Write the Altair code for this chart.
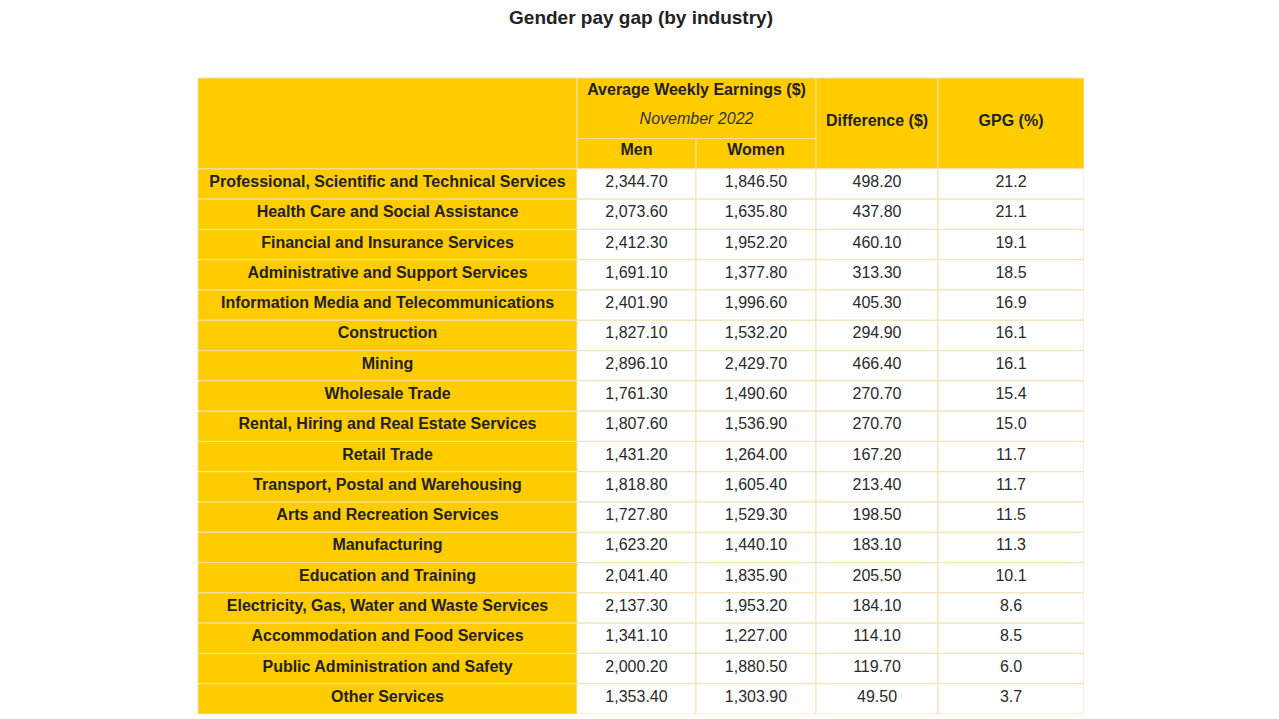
import altair as alt
import pandas as pd

# ---------------- data ----------------
industries = [
    "Professional, Scientific and Technical Services",
    "Health Care and Social Assistance",
    "Financial and Insurance Services",
    "Administrative and Support Services",
    "Information Media and Telecommunications",
    "Construction",
    "Mining",
    "Wholesale Trade",
    "Rental, Hiring and Real Estate Services",
    "Retail Trade",
    "Transport, Postal and Warehousing",
    "Arts and Recreation Services",
    "Manufacturing",
    "Education and Training",
    "Electricity, Gas, Water and Waste Services",
    "Accommodation and Food Services",
    "Public Administration and Safety",
    "Other Services",
]
men = [2344.70, 2073.60, 2412.30, 1691.10, 2401.90, 1827.10, 2896.10, 1761.30, 1807.60,
       1431.20, 1818.80, 1727.80, 1623.20, 2041.40, 2137.30, 1341.10, 2000.20, 1353.40]
women = [1846.50, 1635.80, 1952.20, 1377.80, 1996.60, 1532.20, 2429.70, 1490.60, 1536.90,
         1264.00, 1605.40, 1529.30, 1440.10, 1835.90, 1953.20, 1227.00, 1880.50, 1303.90]
difference = [498.20, 437.80, 460.10, 313.30, 405.30, 294.90, 466.40, 270.70, 270.70,
              167.20, 213.40, 198.50, 183.10, 205.50, 184.10, 114.10, 119.70, 49.50]
gpg = [21.2, 21.1, 19.1, 18.5, 16.9, 16.1, 16.1, 15.4, 15.0,
       11.7, 11.7, 11.5, 11.3, 10.1, 8.6, 8.5, 6.0, 3.7]

title = "Gender pay gap (by industry)"
header_group = "Average Weekly Earnings ($)"
header_period = "November 2022"
header_men = "Men"
header_women = "Women"
header_diff = "Difference ($)"
header_gpg = "GPG (%)"

# ---------------- layout (styles) ----------------
YELLOW = "#FFCC00"
WHITE = "#FFFFFF"
BORDER = "#F2E1AE"
TEXT = "#222222"
FONT = "Liberation Sans"
col_widths = [379, 119, 120, 122, 146]
edges = [0]
for w in col_widths:
    edges.append(edges[-1] + w)
TABLE_W = edges[-1]
HEADER_ROWS = 3
N_ROWS = HEADER_ROWS + len(industries)
TABLE_H = 636


def cx(c0, c1=None):
    c1 = c0 if c1 is None else c1
    return (edges[c0] + edges[c1 + 1]) / 2


cells = []
texts = []


def cell(c0, c1, r0, r1, fill):
    cells.append(dict(x=edges[c0], x2=edges[c1 + 1], y=r0, y2=r1, fill=fill))


def text(c0, c1, yc, label, style):
    texts.append(dict(xc=cx(c0, c1), yc=yc, label=label, style=style))


# header
cell(0, 0, 0, 3, YELLOW)
cell(1, 2, 0, 2, YELLOW)
cell(1, 1, 2, 3, YELLOW)
cell(2, 2, 2, 3, YELLOW)
cell(3, 3, 0, 3, YELLOW)
cell(4, 4, 0, 3, YELLOW)
text(1, 2, 0.47, header_group, "bold")
text(1, 2, 1.42, header_period, "italic")
text(1, 1, 2.45, header_men, "bold")
text(2, 2, 2.45, header_women, "bold")
text(3, 3, 1.5, header_diff, "bold")
text(4, 4, 1.5, header_gpg, "bold")

# body
for i, name in enumerate(industries):
    r = HEADER_ROWS + i
    cell(0, 0, r, r + 1, YELLOW)
    for c in range(1, 5):
        cell(c, c, r, r + 1, WHITE)
    text(0, 0, r + 0.5, name, "bold")
    text(1, 1, r + 0.5, f"{men[i]:,.2f}", "normal")
    text(2, 2, r + 0.5, f"{women[i]:,.2f}", "normal")
    text(3, 3, r + 0.5, f"{difference[i]:,.2f}", "normal")
    text(4, 4, r + 0.5, f"{gpg[i]:.1f}", "normal")

cells_df = pd.DataFrame(cells)
texts_df = pd.DataFrame(texts)

xs = alt.Scale(domain=[0, TABLE_W], range=[0, TABLE_W])
ys = alt.Scale(domain=[0, N_ROWS], range=[0, TABLE_H])

rects = alt.Chart(cells_df).mark_rect(stroke=BORDER, strokeWidth=1).encode(
    x=alt.X("x:Q", scale=xs, axis=None),
    x2="x2:Q",
    y=alt.Y("y:Q", scale=ys, axis=None),
    y2="y2:Q",
    fill=alt.Fill("fill:N", scale=None),
)


def text_layer(style):
    kw = dict(font=FONT, fontSize=16, color=TEXT, align="center", baseline="middle", dy=-2)
    if style == "bold":
        kw["fontWeight"] = "bold"
    elif style == "italic":
        kw["fontStyle"] = "italic"
        kw["color"] = "#333333"
    else:
        kw["color"] = "#2a2a2a"
    return alt.Chart(texts_df).transform_filter(
        alt.datum.style == style
    ).mark_text(**kw).encode(
        x=alt.X("xc:Q", scale=xs, axis=None),
        y=alt.Y("yc:Q", scale=ys, axis=None),
        text="label:N",
    )


chart = alt.layer(
    rects, text_layer("bold"), text_layer("normal"), text_layer("italic")
).properties(
    width=TABLE_W,
    height=TABLE_H,
    padding={"left": 190, "top": 70, "right": 0, "bottom": 0},
    autosize=alt.AutoSizeParams(type="none"),
    title=alt.TitleParams(
        title, font=FONT, fontSize=19, fontWeight="bold", color=TEXT,
        anchor="middle", offset=50,
    ),
).configure_view(stroke=None).configure(background="white")

chart.save("out.html", embed_options={"renderer": "svg", "actions": False})
